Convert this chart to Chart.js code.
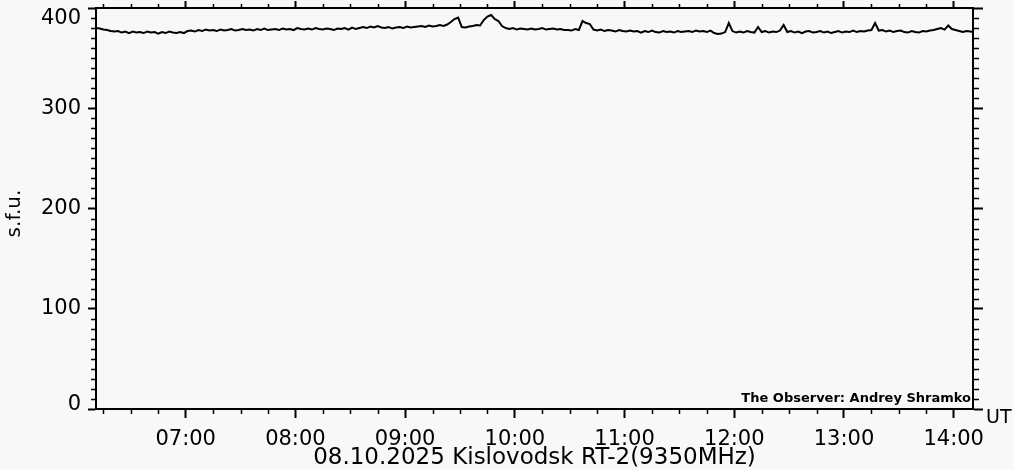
<!DOCTYPE html>
<html>
<head>
<meta charset="utf-8">
<script src="https://cdn.jsdelivr.net/npm/chart.js@4.4.0/dist/chart.umd.min.js"></script>
<style>
  html, body { margin: 0; padding: 0; background: #f8f8f8; }
  #wrap { width: 1014px; height: 470px; }
</style>
</head>
<body>
<div id="wrap"><canvas id="chart"></canvas></div>
<script>
// time axis is in minutes after 00:00 UT
const axisStart = 370.95   // ~06:11
const axisEnd = 850.55     // ~14:10
const hourTicks = [420, 480, 540, 600, 660, 720, 780, 840]
const hourLabels = ['07:00', '08:00', '09:00', '10:00', '11:00', '12:00', '13:00', '14:00']
const yTicks = [0, 100, 200, 300, 400]
const yLabels = ['0', '100', '200', '300', '400']

// flux, one sample every 2 minutes starting 06:11
const startMinute = 371
const stepMinutes = 2
const fluxValues = [
  // 06:11 - 06:59
  380, 379.5, 378.5, 378, 377, 376.5, 377, 375.5, 376.5, 375, 376.5, 375.5, 376,
  375, 376.5, 375.5, 376, 374.5, 376, 375, 376.5, 375.5, 375, 376,
  // 07:01 - 07:59
  375, 377, 377.5, 376.5, 378, 377, 378.5, 377.5, 378, 377, 378.5, 377.5, 378, 379, 377.5,
  378, 379, 378, 378.5, 377.5, 379, 378, 379.5, 378, 378.5, 379, 378, 379.5, 378.5, 379,
  // 08:01 - 08:59
  378, 380, 379, 378.5, 379.5, 378.5, 380, 379, 378.5, 379.5, 379, 378, 379.5,
  379, 380, 378.5, 380.5, 379, 380, 381, 380, 381.5, 380.5, 382, 380.5,
  380, 381, 379.5, 380.5, 381,
  // 09:01 - 09:59
  380, 381.5, 380.5, 381, 381.5, 382, 381, 382.5, 381.5, 382, 383, 382, 383.5,
  386, 389, 390.5, 381, 380.5, 381.5, 382, 383, 382.5, 388, 391.5, 393, 389, 387, 382,
  380, 379, 380,
  // 10:01 - 10:59
  378.5, 379.5, 379, 378.5, 379.5, 378.5, 379, 380, 378.5, 379, 379.5, 378.5, 379, 378,
  378, 377.5, 379, 378, 387, 385, 384, 378.5, 377.5, 378.5, 377, 378, 377.5, 376.5, 378, 377,
  // 11:01 - 11:59
  376.5, 377.5, 376.5, 377, 375.5, 377, 376, 377.5, 376, 375.5, 377, 376, 376.5, 375.5, 377,
  376, 376.5, 377, 376, 377.5, 376.5, 377, 376, 377.5, 375, 374, 374.5, 376, 385, 377,
  // 12:01 - 12:59
  375.5, 376.5, 375.5, 377, 376, 375.5, 381, 376, 377, 375.5, 376.5, 376, 377.5, 383, 376,
  377, 375.5, 376.5, 375, 376.5, 377, 375.5, 376, 377, 375.5, 376.5, 375, 376, 377, 375.5,
  // 13:01 - 13:59
  376.5, 376, 377.5, 376, 377, 376.5, 377.5, 378, 385, 377.5, 378, 376.5, 377.5, 376, 377,
  377.5, 376, 375.5, 377, 376, 375.5, 377, 376.5, 377.5, 378, 379, 380, 378.5, 382.5, 379,
  // 14:01 - 14:11
  378, 377, 376, 377, 376.5, 376
]

const points = fluxValues.map((v, i) => ({ x: startMinute + i * stepMinutes, y: v }))

const FONT = 'DejaVu Sans'

// small ticks between the labelled ones, on all four sides
const minorTicks = {
  id: 'minorTicks',
  afterDraw(chart) {
    const { ctx, chartArea: a, scales } = chart
    ctx.save()
    ctx.strokeStyle = '#000'
    ctx.lineWidth = 1.5
    ctx.beginPath()
    for (let m = 375; m < axisEnd; m += 15) {
      if (m % 60 === 0) continue
      const x = Math.round(scales.x.getPixelForValue(m)) + 0.5
      ctx.moveTo(x, a.bottom); ctx.lineTo(x, a.bottom + 5)
      ctx.moveTo(x, a.top); ctx.lineTo(x, a.top - 4)
    }
    for (let v = 10; v < 400; v += 10) {
      if (v % 100 === 0) continue
      const y = Math.round(scales.y.getPixelForValue(v)) + 0.5
      ctx.moveTo(a.left, y); ctx.lineTo(a.left - 5, y)
      ctx.moveTo(a.right, y); ctx.lineTo(a.right + 6, y)
    }
    ctx.stroke()

    ctx.fillStyle = '#000'
    ctx.font = 'bold 13px ' + FONT
    ctx.textAlign = 'right'
    ctx.textBaseline = 'alphabetic'
    ctx.fillText('The Observer: Andrey Shramko', a.right - 2, a.bottom - 7)
    ctx.font = '19px ' + FONT
    ctx.textAlign = 'left'
    ctx.fillText('UT', a.right + 13, a.bottom + 14)
    ctx.restore()
  }
}

const setTicks = list => scale => { scale.ticks = list.map(v => ({ value: v })) }

new Chart(document.getElementById('chart'), {
  type: 'line',
  data: {
    datasets: [{
      data: points,
      borderColor: '#000',
      borderWidth: 2,
      pointRadius: 0,
      tension: 0,
      fill: false
    }]
  },
  options: {
    responsive: true,
    maintainAspectRatio: false,
    animation: false,
    devicePixelRatio: 1,
    layout: { padding: 0 },
    plugins: { legend: { display: false }, tooltip: { enabled: false } },
    scales: {
      x: {
        type: 'linear',
        position: 'bottom',
        min: axisStart,
        max: axisEnd,
        afterBuildTicks: setTicks(hourTicks),
        afterFit: s => { s.height = 61; s.paddingLeft = 0; s.paddingRight = 0 },
        ticks: {
          autoSkip: false,
          maxRotation: 0,
          padding: 9,
          color: '#000',
          font: { family: FONT, size: 21 },
          callback: v => hourLabels[hourTicks.indexOf(v)]
        },
        grid: { drawOnChartArea: false, tickLength: 9, tickWidth: 2, tickColor: '#000' },
        border: { color: '#000', width: 2 },
        title: {
          display: true,
          text: '08.10.2025 Kislovodsk RT-2(9350MHz)',
          color: '#000',
          padding: 0,
          font: { family: FONT, size: 23, lineHeight: 1.0 }
        }
      },
      x2: {
        type: 'linear',
        position: 'top',
        min: axisStart,
        max: axisEnd,
        afterBuildTicks: setTicks(hourTicks),
        afterFit: s => { s.height = 8 },
        ticks: { display: false },
        grid: { drawOnChartArea: false, tickLength: 7, tickWidth: 2, tickColor: '#000' },
        border: { color: '#000', width: 2 }
      },
      y: {
        position: 'left',
        min: 0,
        max: 400,
        afterBuildTicks: setTicks(yTicks),
        afterFit: s => { s.width = 96; s.paddingTop = 0; s.paddingBottom = 0 },
        ticks: {
          padding: 7,
          color: '#000',
          // keep the end labels inside the frame, like the original
          font: c => ({
            family: FONT,
            size: 21,
            lineHeight: c.tick && c.tick.value === 400 ? 1.03 : (c.tick && c.tick.value === 0 ? 0.38 : 1.2)
          }),
          callback: v => {
            const label = yLabels[yTicks.indexOf(v)]
            if (v === 400) return ['', label]
            if (v === 0) return [label, '']
            return label
          }
        },
        grid: { drawOnChartArea: false, tickLength: 8, tickWidth: 2, tickColor: '#000' },
        border: { color: '#000', width: 2 },
        title: {
          display: true,
          text: 's.f.u.\u2002',
          color: '#000',
          padding: { top: 3, bottom: 0 },
          font: { family: FONT, size: 20 }
        }
      },
      y2: {
        position: 'right',
        min: 0,
        max: 400,
        afterBuildTicks: setTicks(yTicks),
        afterFit: s => { s.width = 41; s.paddingTop = 0; s.paddingBottom = 0 },
        ticks: { display: false },
        grid: { drawOnChartArea: false, tickLength: 10, tickWidth: 2, tickColor: '#000' },
        border: { color: '#000', width: 2 }
      }
    }
  },
  plugins: [minorTicks]
})
</script>
</body>
</html>
